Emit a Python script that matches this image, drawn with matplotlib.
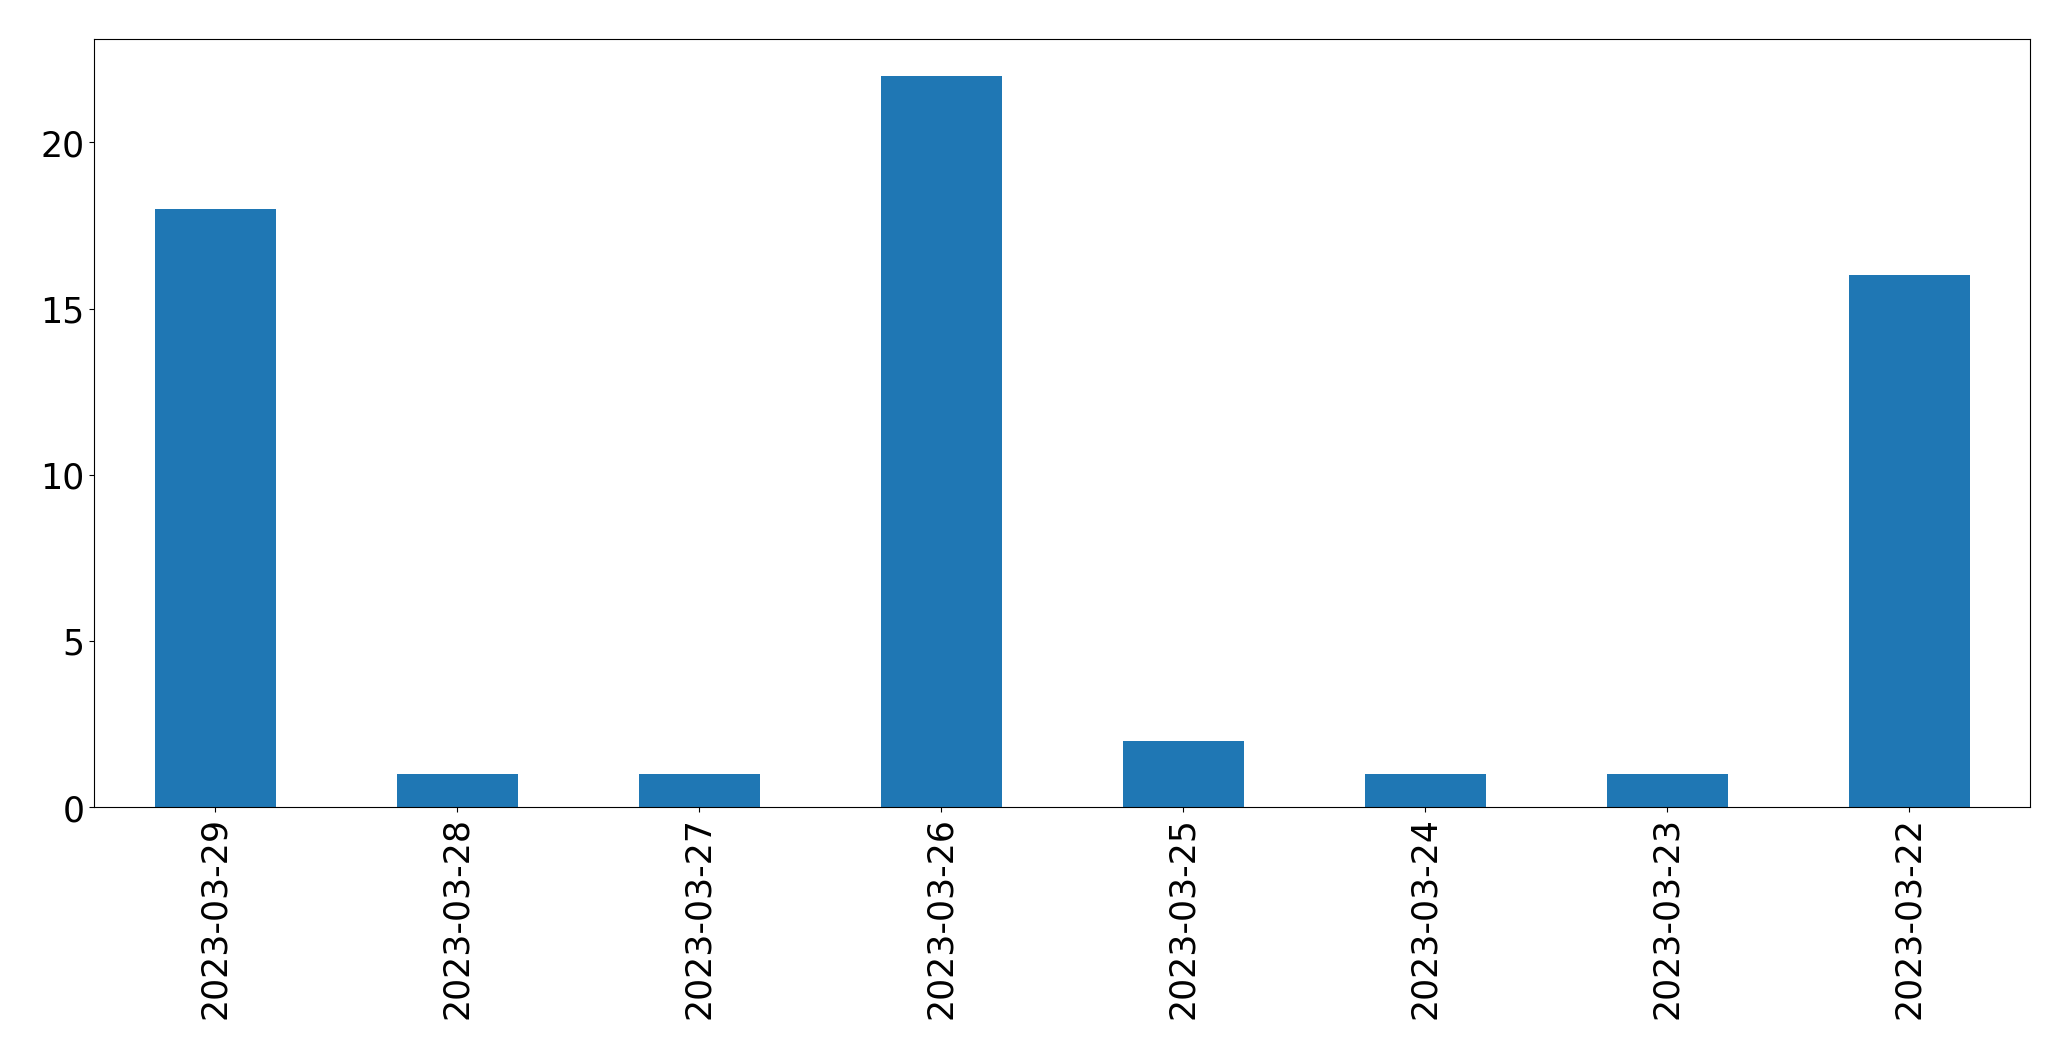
import pandas as pd
import matplotlib
matplotlib.use('Agg')
import matplotlib.pyplot as plt

# daily counts, newest first
dates = ['2023-03-29', '2023-03-28', '2023-03-27', '2023-03-26',
         '2023-03-25', '2023-03-24', '2023-03-23', '2023-03-22']
counts = [18, 1, 1, 22, 2, 1, 1, 16]

s = pd.Series(counts, index=dates)

fig, ax = plt.subplots(figsize=(20.71, 10.605), dpi=100)
s.plot(kind='bar', ax=ax, color='#1f77b4')
ax.tick_params(axis='both', labelsize=25)
plt.subplots_adjust(left=94/2071, right=2030/2071, top=1-40/1061, bottom=1-808/1061)
plt.savefig('out.png')
